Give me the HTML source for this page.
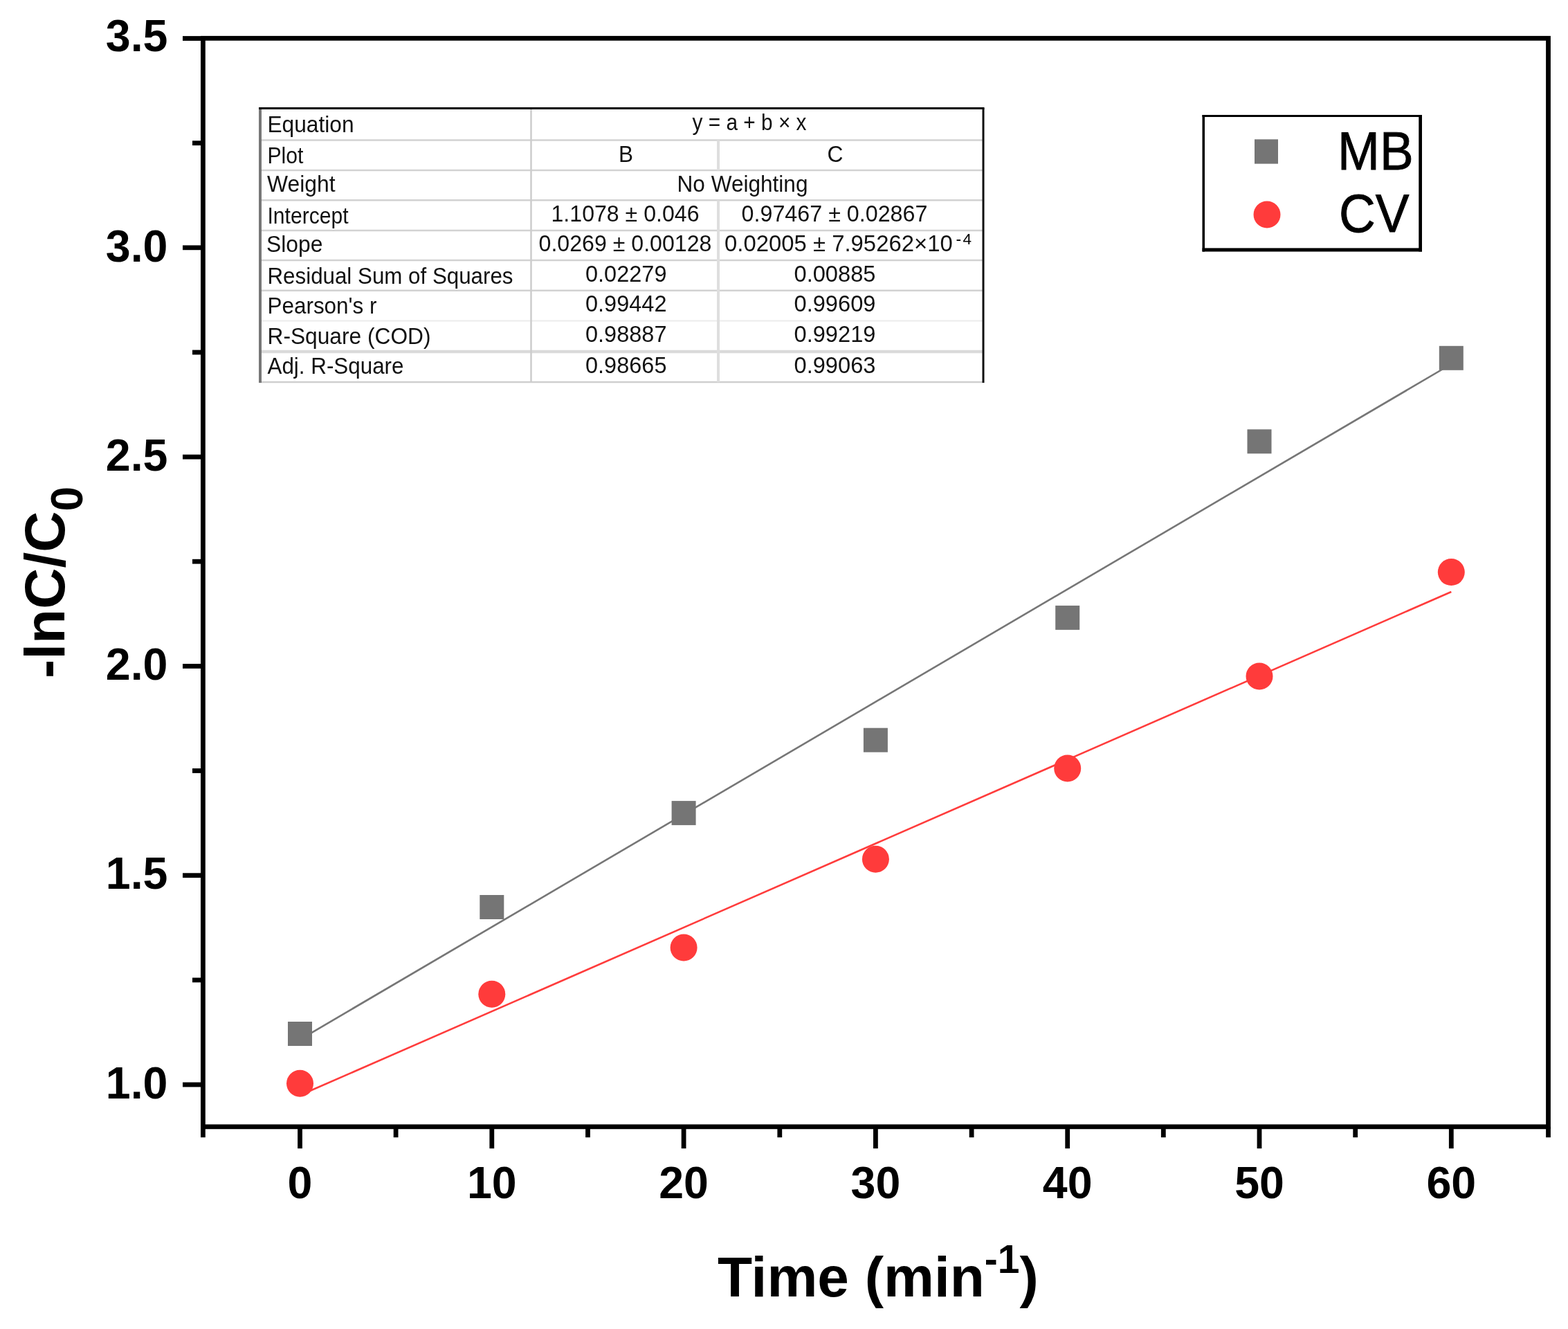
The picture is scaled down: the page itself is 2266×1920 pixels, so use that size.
<!DOCTYPE html>
<html><head><meta charset="utf-8"><title>Kinetics plot</title>
<style>
html,body{margin:0;padding:0;background:#fff;}
body{width:2266px;height:1920px;overflow:hidden;}
svg{display:block;}
text{font-family:"Liberation Sans",Arial,sans-serif;fill:#000;}
.tb{font-size:33.5px;fill:#111;}
.tk{font-size:64.5px;font-weight:bold;}
.ti{font-size:82px;font-weight:bold;}
.lg{font-size:77px;stroke:#000;stroke-width:0.9px;}
</style></head>
<body><svg width="2266" height="1920" viewBox="0 0 2266 1920"><rect x="0" y="0" width="2266" height="1920" fill="#fff"/><g><line x1="376" y1="202.5" x2="1421" y2="202.5" stroke="#d2d2d2" stroke-width="2.5"/><line x1="376" y1="246" x2="1421" y2="246" stroke="#d2d2d2" stroke-width="2.5"/><line x1="376" y1="289.3" x2="1421" y2="289.3" stroke="#d2d2d2" stroke-width="2.5"/><line x1="376" y1="333" x2="1421" y2="333" stroke="#d2d2d2" stroke-width="2.5"/><line x1="376" y1="376" x2="1421" y2="376" stroke="#d2d2d2" stroke-width="2.5"/><line x1="376" y1="419.8" x2="1421" y2="419.8" stroke="#d2d2d2" stroke-width="2.5"/><line x1="376" y1="463.6" x2="1421" y2="463.6" stroke="#ececec" stroke-width="2"/><line x1="376" y1="508" x2="1421" y2="508" stroke="#dadada" stroke-width="4.5"/><line x1="376" y1="552" x2="1421" y2="552" stroke="#cfcfcf" stroke-width="2.5"/><line x1="767.5" y1="156.5" x2="767.5" y2="552" stroke="#cccccc" stroke-width="2.5"/><line x1="1038" y1="202.5" x2="1038" y2="246" stroke="#dedede" stroke-width="4"/><line x1="1038" y1="289.3" x2="1038" y2="552" stroke="#dedede" stroke-width="4"/><line x1="376" y1="155.0" x2="376" y2="553" stroke="#777" stroke-width="4"/><line x1="374" y1="156.5" x2="1422.5" y2="156.5" stroke="#000" stroke-width="3"/><line x1="1421" y1="156.5" x2="1421" y2="553" stroke="#111" stroke-width="3"/><text x="386.50" y="190.5" class="tb" textLength="125.00" lengthAdjust="spacingAndGlyphs">Equation</text><text x="386.50" y="236" class="tb" textLength="52.00" lengthAdjust="spacingAndGlyphs">Plot</text><text x="386.00" y="277" class="tb" textLength="98.50" lengthAdjust="spacingAndGlyphs">Weight</text><text x="386.50" y="323" class="tb" textLength="117.00" lengthAdjust="spacingAndGlyphs">Intercept</text><text x="385.00" y="364" class="tb" textLength="81.50" lengthAdjust="spacingAndGlyphs">Slope</text><text x="386.50" y="409.5" class="tb" textLength="355.00" lengthAdjust="spacingAndGlyphs">Residual Sum of Squares</text><text x="386.50" y="453" class="tb" textLength="158.00" lengthAdjust="spacingAndGlyphs">Pearson&#39;s r</text><text x="386.50" y="496.5" class="tb" textLength="236.00" lengthAdjust="spacingAndGlyphs">R-Square (COD)</text><text x="386.50" y="540" class="tb" textLength="197.00" lengthAdjust="spacingAndGlyphs">Adj. R-Square</text><text x="1000.50" y="187.5" class="tb" textLength="165.00" lengthAdjust="spacingAndGlyphs">y = a + b × x</text><text x="894.00" y="233.5" class="tb" textLength="21.00" lengthAdjust="spacingAndGlyphs">B</text><text x="1195.50" y="233.5" class="tb" textLength="23.00" lengthAdjust="spacingAndGlyphs">C</text><text x="978.50" y="277" class="tb" textLength="189.00" lengthAdjust="spacingAndGlyphs">No Weighting</text><text x="796.50" y="320" class="tb" textLength="214.00" lengthAdjust="spacingAndGlyphs">1.1078 ± 0.046</text><text x="1071.60" y="320" class="tb" textLength="268.80" lengthAdjust="spacingAndGlyphs">0.97467 ± 0.02867</text><text x="778.50" y="363" class="tb" textLength="250.00" lengthAdjust="spacingAndGlyphs">0.0269 ± 0.00128</text><text x="1047.10" y="363" class="tb" textLength="329.60" lengthAdjust="spacingAndGlyphs">0.02005 ± 7.95262×10</text><text x="846.00" y="406.5" class="tb" textLength="117.50" lengthAdjust="spacingAndGlyphs">0.02279</text><text x="1147.50" y="406.5" class="tb" textLength="118.00" lengthAdjust="spacingAndGlyphs">0.00885</text><text x="846.00" y="450" class="tb" textLength="117.50" lengthAdjust="spacingAndGlyphs">0.99442</text><text x="1147.50" y="450" class="tb" textLength="118.00" lengthAdjust="spacingAndGlyphs">0.99609</text><text x="846.00" y="493.5" class="tb" textLength="117.50" lengthAdjust="spacingAndGlyphs">0.98887</text><text x="1147.50" y="493.5" class="tb" textLength="118.00" lengthAdjust="spacingAndGlyphs">0.99219</text><text x="846.00" y="539" class="tb" textLength="117.50" lengthAdjust="spacingAndGlyphs">0.98665</text><text x="1147.50" y="539" class="tb" textLength="118.00" lengthAdjust="spacingAndGlyphs">0.99063</text><text x="1381.5" y="352.5" font-size="23" fill="#bbb">-</text><text x="1391.5" y="352.8" font-size="22.5" fill="#222" textLength="12.5" lengthAdjust="spacingAndGlyphs">4</text></g><line x1="433.5" y1="1501.82412" x2="2097.3" y2="525.99972" stroke="#767676" stroke-width="2.6"/><line x1="433.5" y1="1582.314518" x2="2097.3" y2="854.980718" stroke="#ff3c3c" stroke-width="2.6"/><rect x="416.0" y="1476.0" width="35" height="35" fill="#757575"/><rect x="693.3" y="1293.0" width="35" height="35" fill="#757575"/><rect x="970.6" y="1157.1" width="35" height="35" fill="#757575"/><rect x="1247.9" y="1051.7" width="35" height="35" fill="#757575"/><rect x="1525.2" y="874.9" width="35" height="35" fill="#757575"/><rect x="1802.5" y="620.3" width="35" height="35" fill="#757575"/><rect x="2079.8" y="499.8" width="35" height="35" fill="#757575"/><circle cx="433.5" cy="1565.3" r="19.5" fill="#ff3b3b"/><circle cx="710.8" cy="1436.2" r="19.5" fill="#ff3b3b"/><circle cx="988.1" cy="1369.0" r="19.5" fill="#ff3b3b"/><circle cx="1265.4" cy="1241.2" r="19.5" fill="#ff3b3b"/><circle cx="1542.7" cy="1110.0" r="19.5" fill="#ff3b3b"/><circle cx="1820.0" cy="977.0" r="19.5" fill="#ff3b3b"/><circle cx="2097.3" cy="826.6" r="19.5" fill="#ff3b3b"/><rect x="293.4" y="55.3" width="1944.1" height="1572.5" fill="none" stroke="#000" stroke-width="6.8"/><line x1="264.0" y1="1567.0" x2="293.4" y2="1567.0" stroke="#000" stroke-width="6.8"/><line x1="278.0" y1="1415.9" x2="293.4" y2="1415.9" stroke="#000" stroke-width="6.8"/><line x1="264.0" y1="1264.7" x2="293.4" y2="1264.7" stroke="#000" stroke-width="6.8"/><line x1="278.0" y1="1113.5" x2="293.4" y2="1113.5" stroke="#000" stroke-width="6.8"/><line x1="264.0" y1="962.4" x2="293.4" y2="962.4" stroke="#000" stroke-width="6.8"/><line x1="278.0" y1="811.2" x2="293.4" y2="811.2" stroke="#000" stroke-width="6.8"/><line x1="264.0" y1="660.1" x2="293.4" y2="660.1" stroke="#000" stroke-width="6.8"/><line x1="278.0" y1="509.0" x2="293.4" y2="509.0" stroke="#000" stroke-width="6.8"/><line x1="264.0" y1="357.8" x2="293.4" y2="357.8" stroke="#000" stroke-width="6.8"/><line x1="278.0" y1="206.7" x2="293.4" y2="206.7" stroke="#000" stroke-width="6.8"/><line x1="264.0" y1="55.5" x2="293.4" y2="55.5" stroke="#000" stroke-width="6.8"/><line x1="293.4" y1="1627.8" x2="293.4" y2="1643.2" stroke="#000" stroke-width="6.8"/><line x1="433.5" y1="1627.8" x2="433.5" y2="1659.2" stroke="#000" stroke-width="6.8"/><line x1="572.1" y1="1627.8" x2="572.1" y2="1643.2" stroke="#000" stroke-width="6.8"/><line x1="710.8" y1="1627.8" x2="710.8" y2="1659.2" stroke="#000" stroke-width="6.8"/><line x1="849.5" y1="1627.8" x2="849.5" y2="1643.2" stroke="#000" stroke-width="6.8"/><line x1="988.1" y1="1627.8" x2="988.1" y2="1659.2" stroke="#000" stroke-width="6.8"/><line x1="1126.8" y1="1627.8" x2="1126.8" y2="1643.2" stroke="#000" stroke-width="6.8"/><line x1="1265.4" y1="1627.8" x2="1265.4" y2="1659.2" stroke="#000" stroke-width="6.8"/><line x1="1404.1" y1="1627.8" x2="1404.1" y2="1643.2" stroke="#000" stroke-width="6.8"/><line x1="1542.7" y1="1627.8" x2="1542.7" y2="1659.2" stroke="#000" stroke-width="6.8"/><line x1="1681.3" y1="1627.8" x2="1681.3" y2="1643.2" stroke="#000" stroke-width="6.8"/><line x1="1820.0" y1="1627.8" x2="1820.0" y2="1659.2" stroke="#000" stroke-width="6.8"/><line x1="1958.7" y1="1627.8" x2="1958.7" y2="1643.2" stroke="#000" stroke-width="6.8"/><line x1="2097.3" y1="1627.8" x2="2097.3" y2="1659.2" stroke="#000" stroke-width="6.8"/><line x1="2237.5" y1="1627.8" x2="2237.5" y2="1643.2" stroke="#000" stroke-width="6.8"/><text x="242.5" y="1586.7" class="tk" text-anchor="end">1.0</text><text x="242.5" y="1284.4" class="tk" text-anchor="end">1.5</text><text x="242.5" y="982.1" class="tk" text-anchor="end">2.0</text><text x="242.5" y="679.8" class="tk" text-anchor="end">2.5</text><text x="242.5" y="377.5" class="tk" text-anchor="end">3.0</text><text x="242.5" y="73.5" class="tk" text-anchor="end">3.5</text><text x="433.5" y="1731" class="tk" text-anchor="middle">0</text><text x="710.8" y="1731" class="tk" text-anchor="middle">10</text><text x="988.1" y="1731" class="tk" text-anchor="middle">20</text><text x="1265.4" y="1731" class="tk" text-anchor="middle">30</text><text x="1542.7" y="1731" class="tk" text-anchor="middle">40</text><text x="1820.0" y="1731" class="tk" text-anchor="middle">50</text><text x="2097.3" y="1731" class="tk" text-anchor="middle">60</text><text class="ti" transform="translate(92.5,980) rotate(-90)">-lnC/C<tspan font-size="64" dy="26">0</tspan></text><text class="ti" x="1037" y="1873">Time (min<tspan font-size="57" dy="-34">-1</tspan><tspan dy="34">)</tspan></text><rect x="1737.5" y="166" width="317" height="197.5" fill="#fff"/><rect x="1737.5" y="166" width="317.5" height="3" fill="#000"/><rect x="1737.5" y="166" width="3.5" height="197.5" fill="#000"/><rect x="2050.3" y="166" width="4.7" height="197.5" fill="#000"/><rect x="1737.5" y="358.4" width="317.5" height="5.1" fill="#000"/><rect x="1813" y="201.3" width="34" height="35.3" fill="#757575"/><circle cx="1831" cy="310" r="19.5" fill="#ff3b3b"/><text transform="translate(1933,244.5) scale(0.95,1)" class="lg">MB</text><text transform="translate(1935,335) scale(0.95,1)" class="lg">CV</text></svg></body></html>
